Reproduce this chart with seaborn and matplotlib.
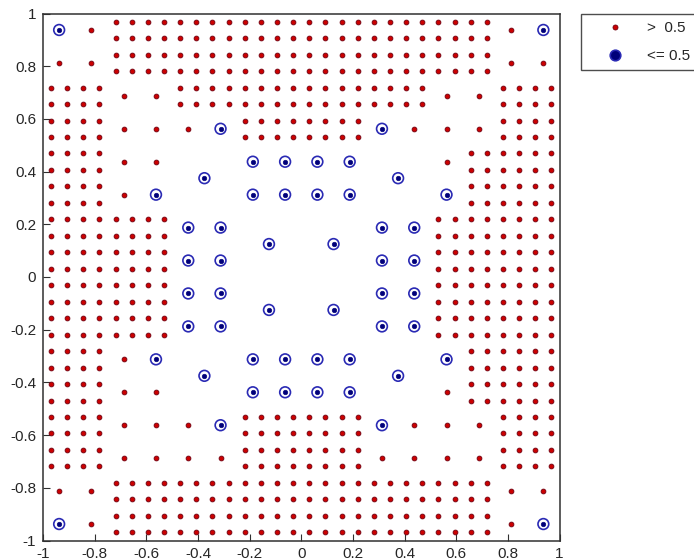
import numpy as np
import pandas as pd
import matplotlib
matplotlib.use('Agg')
import matplotlib.pyplot as plt
from matplotlib.lines import Line2D
import seaborn as sns

# Sample map: 16 x 16 cells of size 1/8, top row first.
# F = cell split in 4 fine samples (all > 0.5)
# r = one sample in the cell centre, > 0.5
# b = one sample in the cell centre, <= 0.5
# B = part of an unsplit 1/4 cell, one sample in its centre, <= 0.5
cell_map = [
    "brFFFFFFFFFFFFrb",
    "rrFFFFFFFFFFFFrr",
    "FFrrFFFFFFFFrrFF",
    "FFrrrbFFFFbrrrFF",
    "FFrrBBbbbbBBrFFF",
    "FFrbBBbbbbBBbFFF",
    "FFFFbbBBBBbbFFFF",
    "FFFFbbBBBBbbFFFF",
    "FFFFbbBBBBbbFFFF",
    "FFFFbbBBBBbbFFFF",
    "FFrbBBbbbbBBbFFF",
    "FFrrBBbbbbBBrFFF",
    "FFrrrbFFFFbrrrFF",
    "FFrrrrFFFFrrrrFF",
    "rrFFFFFFFFFFFFrr",
    "brFFFFFFFFFFFFrb",
]

tick_vals = [-1, -0.8, -0.6, -0.4, -0.2, 0, 0.2, 0.4, 0.6, 0.8, 1]
tick_labels = ['-1', '-0.8', '-0.6', '-0.4', '-0.2', '0', '0.2', '0.4', '0.6', '0.8', '1']
legend_labels = ['>  0.5', '<= 0.5']

# expand the map into sample points
pts = []
h = 2.0 / len(cell_map)
for i, line in enumerate(cell_map):
    for j, ch in enumerate(line):
        x0 = -1 + j * h
        y1 = 1 - i * h
        if ch == 'F':
            for fx in (0.25, 0.75):
                for fy in (0.25, 0.75):
                    pts.append((x0 + fx * h, y1 - fy * h, 'hi'))
        elif ch in 'rb':
            pts.append((x0 + h / 2, y1 - h / 2, 'hi' if ch == 'r' else 'lo'))
        elif ch == 'B' and i % 2 == 0 and j % 2 == 0:
            pts.append((x0 + h, y1 - h, 'lo'))

df = pd.DataFrame(pts, columns=['x', 'y', 'cls'])
hi = df[df['cls'] == 'hi']
lo = df[df['cls'] == 'lo']

sns.set_style('white')
plt.rcParams['font.family'] = ['Liberation Sans', 'DejaVu Sans']

red_face = '#cc0000'
red_edge = '#700010'
blue_ring = '#2a2ab4'
blue_dot = '#00007a'

fig = plt.figure(figsize=(6.94, 5.6), dpi=100)
ax = fig.add_axes([43 / 694, 1 - 540.5 / 560, (559.5 - 43) / 694, (540.5 - 13.5) / 560])

sns.scatterplot(data=hi, x='x', y='y', ax=ax, marker='o', s=12,
                color=red_face, edgecolor=red_edge, linewidth=0.6, legend=False, zorder=3)
sns.scatterplot(data=lo, x='x', y='y', ax=ax, marker='o', s=60,
                facecolor='none', edgecolor=blue_ring, linewidth=1.2, legend=False, zorder=3)
sns.scatterplot(data=lo, x='x', y='y', ax=ax, marker='o', s=11,
                color=blue_dot, edgecolor=blue_dot, linewidth=0.4, legend=False, zorder=4)

ax.set_xlim(-1, 1)
ax.set_ylim(-1, 1)
ax.set_xticks(tick_vals)
ax.set_xticklabels(tick_labels)
ax.set_yticks(tick_vals)
ax.set_yticklabels(tick_labels)
ax.tick_params(direction='in', length=5, width=0.8, color='#303030',
               labelsize=11, pad=5, bottom=True, left=True, top=False, right=False)
ax.set_xlabel('')
ax.set_ylabel('')
for sp in ax.spines.values():
    sp.set_visible(True)
    sp.set_color('#303030')
    sp.set_linewidth(1.1)

handles = [
    Line2D([], [], linestyle='none', marker='o', markersize=3.6,
           markerfacecolor=red_face, markeredgecolor=red_edge, markeredgewidth=0.6),
    Line2D([], [], linestyle='none', marker='o', markersize=7.6,
           markerfacecolor=blue_dot, markeredgecolor=blue_ring, markeredgewidth=1.2),
]
leg = fig.legend(handles, legend_labels, loc='upper left',
                 bbox_to_anchor=(580.5 / 694, 1 - 14 / 560), borderaxespad=0,
                 fontsize=11, frameon=True, fancybox=False, edgecolor='#202020',
                 borderpad=0.45, handlelength=3.6, handletextpad=0.3, labelspacing=0.95)
leg.get_frame().set_linewidth(1.0)

fig.savefig('out.png', dpi=100)
